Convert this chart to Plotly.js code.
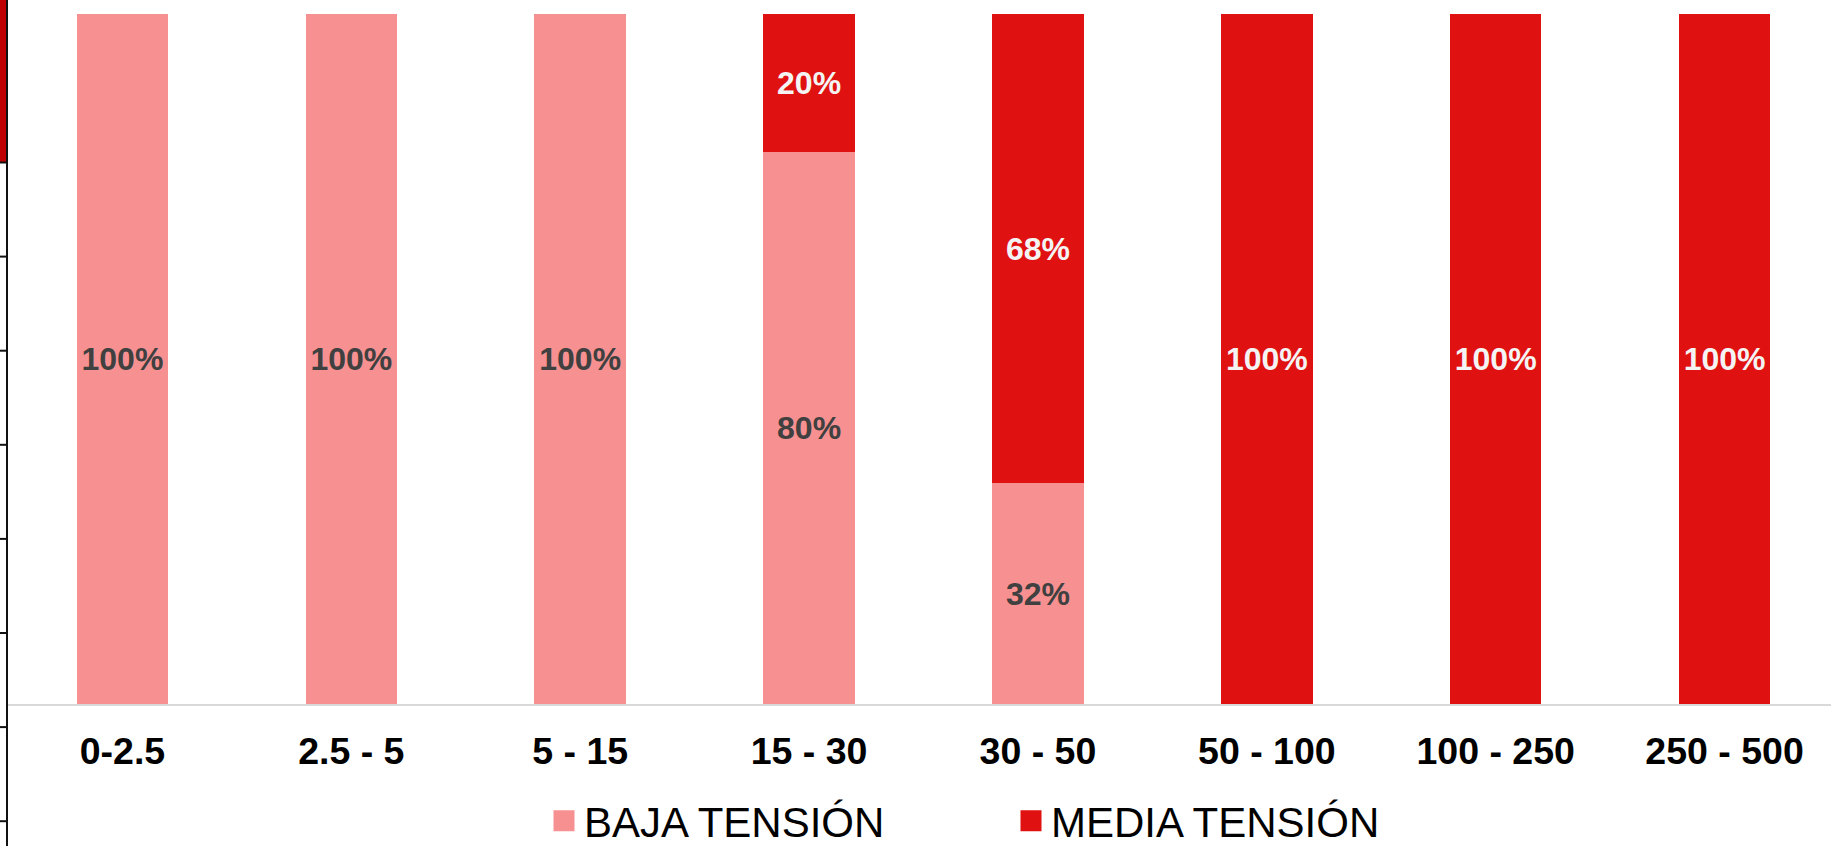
<!DOCTYPE html>
<html>
<head>
<meta charset="utf-8">
<script src="https://cdn.plot.ly/plotly-3.0.1.min.js"></script>
<style>html,body{margin:0;padding:0;background:#fff;}#chart{width:1831px;height:846px;}</style>
</head>
<body>
<div id="chart"></div>
<script>
// ---- data ----
var categories = ['0-2.5', '2.5 - 5', '5 - 15', '15 - 30', '30 - 50', '50 - 100', '100 - 250', '250 - 500'];
var bajaTension = [100, 100, 100, 80, 32, 0, 0, 0];
var mediaTension = [0, 0, 0, 20, 68, 100, 100, 100];
var seriesNames = ['BAJA TENSIÓN', 'MEDIA TENSIÓN'];

var colBaja = '#F79191';
var colMedia = '#E01111';
var W = 1831, H = 846, ML = 8, MT = 14, MB = 142;
var plotW = W - ML, plotH = H - MT - MB;

function lbl(arr) { return arr.map(function (v) { return v > 0 ? v + '%' : ''; }); }

var traces = [
  {
    type: 'bar', x: categories, y: bajaTension, name: seriesNames[0], showlegend: false,
    marker: { color: colBaja }, text: lbl(bajaTension), textposition: 'inside',
    insidetextanchor: 'middle', textangle: 0, constraintext: 'none',
    textfont: { family: 'Liberation Sans, Arial, sans-serif', size: 32, weight: 'bold', color: '#404040' },
    hoverinfo: 'none'
  },
  {
    type: 'bar', x: categories, y: mediaTension, name: seriesNames[1], showlegend: false,
    marker: { color: colMedia }, text: lbl(mediaTension), textposition: 'inside',
    insidetextanchor: 'middle', textangle: 0, constraintext: 'none',
    textfont: { family: 'Liberation Sans, Arial, sans-serif', size: 32, weight: 'bold', color: '#F4F4F4' },
    hoverinfo: 'none'
  },
  {
    type: 'scatter', mode: 'markers', x: [null], y: [null], name: seriesNames[0],
    marker: { symbol: 'square', size: 16, color: colBaja, line: { color: colBaja, width: 5 } }
  },
  {
    type: 'scatter', mode: 'markers', x: [null], y: [null], name: seriesNames[1],
    marker: { symbol: 'square', size: 16, color: colMedia, line: { color: colMedia, width: 5 } }
  }
];

// decorative left-edge fragment (paper coordinates derived from pixels)
function px2x(p) { return (p - ML) / plotW; }
function py2y(p) { return (H - MB - p) / plotH; }
var shapes = [
  { type: 'rect', xref: 'paper', yref: 'paper', x0: px2x(0), x1: px2x(7), y0: py2y(0), y1: py2y(163),
    fillcolor: '#C00000', line: { width: 0 }, layer: 'above' },
  { type: 'line', xref: 'paper', yref: 'paper', x0: px2x(7), x1: px2x(7), y0: py2y(0), y1: py2y(846),
    line: { color: '#111111', width: 2 }, layer: 'above' }
];
for (var i = 0; i < 8; i++) {
  var ty = 162.5 + i * 94.1;
  shapes.push({ type: 'line', xref: 'paper', yref: 'paper', x0: px2x(0), x1: px2x(7), y0: py2y(ty), y1: py2y(ty),
    line: { color: '#111111', width: 2 }, layer: 'above' });
}

var layout = {
  width: W, height: H,
  margin: { l: ML, r: 0, t: MT, b: MB, pad: 0, autoexpand: false },
  paper_bgcolor: '#ffffff', plot_bgcolor: '#ffffff',
  barmode: 'stack', bargap: 0.6,
  showlegend: true,
  xaxis: {
    type: 'category', range: [-0.5, 7.465], fixedrange: true, automargin: false,
    showline: true, linecolor: '#D9D9D9', linewidth: 2, ticks: '', showgrid: false, zeroline: false,
    tickfont: { family: 'Liberation Sans, Arial, sans-serif', size: 37.5, weight: 'bold', color: '#000000' },
    ticklabelstandoff: 13
  },
  yaxis: { range: [0, 100], visible: false, showgrid: false, zeroline: false, fixedrange: true },
  legend: {
    orientation: 'h', xref: 'paper', yref: 'paper', traceorder: 'normal',
    x: px2x(544), xanchor: 'left', y: py2y(787), yanchor: 'top',
    font: { family: 'Liberation Sans, Arial, sans-serif', size: 42, color: '#000000' },
    entrywidth: 422, itemsizing: 'trace', bgcolor: 'rgba(0,0,0,0)'
  },
  shapes: shapes,
  font: { family: 'Liberation Sans, Arial, sans-serif' }
};

Plotly.newPlot('chart', traces, layout, { displayModeBar: false, staticPlot: true });
</script>
</body>
</html>
